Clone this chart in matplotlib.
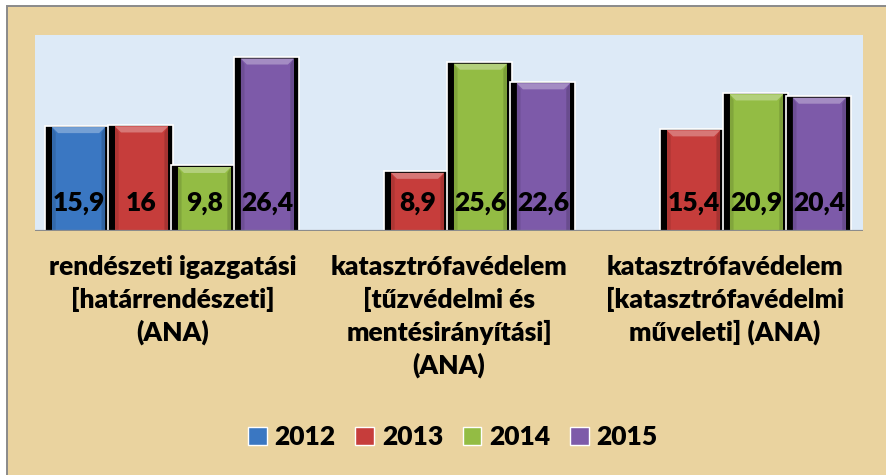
import numpy as np
import matplotlib
matplotlib.use("Agg")
import matplotlib.pyplot as plt
from matplotlib.patches import Rectangle, Polygon, Patch
from matplotlib.colors import to_rgb

plt.rcParams['font.family'] = ['Lato', 'DejaVu Sans']
plt.rcParams['font.weight'] = 'heavy'

# --- data -------------------------------------------------------------
categories = [
    "rendészeti igazgatási\n[határrendészeti]\n(ANA)",
    "katasztrófavédelem\n[tűzvédelmi és\nmentésirányítási]\n(ANA)",
    "katasztrófavédelem\n[katasztrófavédelmi\nműveleti] (ANA)",
]
years = ["2012", "2013", "2014", "2015"]
values_2012 = [15.9, np.nan, np.nan]
values_2013 = [16.0, 8.9, 15.4]
values_2014 = [9.8, 25.6, 20.9]
values_2015 = [26.4, 22.6, 20.4]
series = [values_2012, values_2013, values_2014, values_2015]
colors = ["#3A77C2", "#C63D3B", "#93BC44", "#7D5AA9"]

# --- figure -----------------------------------------------------------
W, H = 886, 475
fig = plt.figure(figsize=(W / 100, H / 100), dpi=100, facecolor="white")

# parchment panel with a grey frame on the top/left edge
fig.patches.append(Rectangle((6.5 / W, -0.02), 1.05, (H - 6.5) / H + 0.02,
                             transform=fig.transFigure, facecolor="#EAD39F",
                             edgecolor="#8A8A8A", linewidth=1.4, zorder=-10))

ax = fig.add_axes([35 / W, 244 / H, 828 / W, 196 / H])
ax.set_facecolor("#DDEAF7")
ax.set_xlim(-0.5, 2.5)
ax.set_ylim(0, 30)
for s in ax.spines.values():
    s.set_visible(False)
ax.set_yticks([])

# pixel-to-data conversions for bevel details
px_x = 3.0 / 828
px_y = 30.0 / 196

step = 0.228
body_w = 53 * px_x
x = np.arange(len(categories))


def shade(c, f):
    r, g, b = to_rgb(c)
    if f >= 0:
        return (r + (1 - r) * f, g + (1 - g) * f, b + (1 - b) * f)
    return (r * (1 + f), g * (1 + f), b * (1 + f))


for i, (vals, col) in enumerate(zip(series, colors)):
    xs = x + (i - 1.5) * step
    v = np.array(vals, dtype=float)
    # dark shadow block with white outline behind each bar
    ax.bar(xs - 1 * px_x, v + 1.5 * px_y, width=body_w + 12 * px_x,
           color="black", edgecolor="white", linewidth=1.2, zorder=2)
    # bar body
    bars = ax.bar(xs, v, width=body_w, color=col, linewidth=0, zorder=3)
    bx, by = 6 * px_x, 6 * px_y
    for rect, val in zip(bars, v):
        if np.isnan(val):
            continue
        x0 = rect.get_x()
        x1 = x0 + rect.get_width()
        top = rect.get_height()
        # side bevels
        ax.add_patch(Polygon([(x0, 0), (x0 + bx * 0.6, 0), (x0 + bx * 0.6, top - by),
                              (x0, top)], closed=True, facecolor=shade(col, -0.12),
                             linewidth=0, zorder=4))
        ax.add_patch(Polygon([(x1, 0), (x1 - bx * 0.6, 0), (x1 - bx * 0.6, top - by),
                              (x1, top)], closed=True, facecolor=shade(col, -0.16),
                             linewidth=0, zorder=4))
        # top bevel
        ax.add_patch(Polygon([(x0, top), (x1, top), (x1 - bx, top - by),
                              (x0 + bx, top - by)], closed=True,
                             facecolor=shade(col, 0.30), linewidth=0, zorder=4))
        label = ("%g" % val).replace(".", ",")
        ax.annotate(label, xy=(rect.get_x() + rect.get_width() / 2, 0),
                    xytext=(0, 20.5), textcoords="offset points",
                    ha="center", va="center", fontsize=19, fontweight="heavy",
                    color="black", zorder=6)

ax.axhline(0, color="#8C8C8C", linewidth=1.6, zorder=5)

ax.set_xticks(x)
ax.set_xticklabels(categories, fontsize=19, fontweight="heavy", linespacing=1.38)
ax.tick_params(axis="x", length=0, pad=17)

handles = [Patch(facecolor=c, edgecolor="white", linewidth=1.0) for c in colors]
fig.legend(handles, years, loc="center", bbox_to_anchor=(453 / W, 1 - 437 / H),
           ncol=4, frameon=False, handlelength=0.7,
           handleheight=0.7, handletextpad=0.3, columnspacing=0.75,
           prop={"weight": "heavy", "size": 19})

fig.savefig("out.png", dpi=100, facecolor=fig.get_facecolor())
